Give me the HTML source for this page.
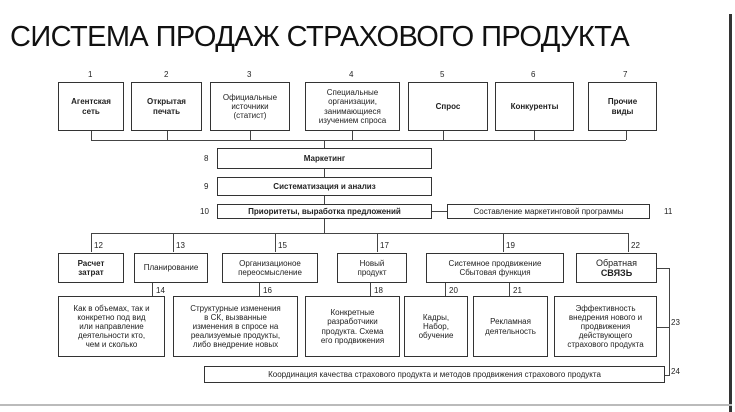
<!DOCTYPE html>
<html><head><meta charset="utf-8"><style>
body{margin:0;width:735px;height:412px;background:#fff;position:relative;overflow:hidden;font-family:"Liberation Sans",sans-serif;color:#222}
.b{position:absolute;border:1.3px solid #333;box-sizing:border-box;display:flex;align-items:center;justify-content:center;text-align:center;font-size:8px;line-height:1.15}
.bold{font-weight:bold}
.n{position:absolute;font-size:8px}
.h{position:absolute;height:0;border-top:1.3px solid #444}
.v{position:absolute;width:0;border-left:1.3px solid #444}
</style></head><body>
<div style="position:absolute;left:10px;top:21px;font-size:29px;letter-spacing:-0.6px;color:#111;white-space:nowrap">СИСТЕМА ПРОДАЖ СТРАХОВОГО ПРОДУКТА</div>
<div style="position:absolute;left:729px;top:14px;width:3px;height:398px;background:#333"></div>
<div style="position:absolute;left:0;top:404px;width:732px;height:2px;background:#bbb"></div>

<div class="n" style="left:88px;top:70px">1</div>
<div class="n" style="left:164px;top:70px">2</div>
<div class="n" style="left:247px;top:70px">3</div>
<div class="n" style="left:349px;top:70px">4</div>
<div class="n" style="left:440px;top:70px">5</div>
<div class="n" style="left:531px;top:70px">6</div>
<div class="n" style="left:623px;top:70px">7</div>
<div class="b bold" style="left:58px;top:82px;width:66px;height:49px"><div>Агентская<br>сеть</div></div>
<div class="b bold" style="left:131px;top:82px;width:71px;height:49px"><div>Открытая<br>печать</div></div>
<div class="b" style="left:210px;top:82px;width:80px;height:49px"><div>Официальные<br>источники<br>(статист)</div></div>
<div class="b" style="left:305px;top:82px;width:95px;height:49px"><div>Специальные<br>организации,<br>занимающиеся<br>изучением спроса</div></div>
<div class="b bold" style="left:408px;top:82px;width:80px;height:49px">Спрос</div>
<div class="b bold" style="left:495px;top:82px;width:79px;height:49px">Конкуренты</div>
<div class="b bold" style="left:588px;top:82px;width:69px;height:49px"><div>Прочие<br>виды</div></div>
<div class="h" style="left:91px;top:140px;width:535px"></div>
<div class="v" style="left:91px;top:131px;height:9px"></div>
<div class="v" style="left:167px;top:131px;height:9px"></div>
<div class="v" style="left:250px;top:131px;height:9px"></div>
<div class="v" style="left:352px;top:131px;height:9px"></div>
<div class="v" style="left:443px;top:131px;height:9px"></div>
<div class="v" style="left:534px;top:131px;height:9px"></div>
<div class="v" style="left:626px;top:131px;height:9px"></div>
<div class="v" style="left:324px;top:140px;height:8px"></div>
<div class="n" style="left:204px;top:154px">8</div>
<div class="n" style="left:204px;top:182px">9</div>
<div class="n" style="left:200px;top:207px">10</div>
<div class="b bold" style="left:217px;top:148px;width:215px;height:21px">Маркетинг</div>
<div class="v" style="left:324px;top:169px;height:8px"></div>
<div class="b bold" style="left:217px;top:177px;width:215px;height:19px">Систематизация и анализ</div>
<div class="v" style="left:324px;top:196px;height:8px"></div>
<div class="b bold" style="left:217px;top:204px;width:215px;height:15px;border-width:1.8px">Приоритеты, выработка предложений</div>
<div class="h" style="left:432px;top:211px;width:15px"></div>
<div class="b" style="left:447px;top:204px;width:203px;height:15px">Составление маркетинговой программы</div>
<div class="n" style="left:664px;top:207px">11</div>
<div class="v" style="left:324px;top:219px;height:14px"></div>
<div class="h" style="left:91px;top:233px;width:537px"></div>
<div class="v" style="left:91px;top:233px;height:19px"></div>
<div class="v" style="left:173px;top:233px;height:19px"></div>
<div class="v" style="left:275px;top:233px;height:19px"></div>
<div class="v" style="left:377px;top:233px;height:19px"></div>
<div class="v" style="left:503px;top:233px;height:19px"></div>
<div class="v" style="left:628px;top:233px;height:19px"></div>
<div class="n" style="left:94px;top:241px">12</div>
<div class="n" style="left:176px;top:241px">13</div>
<div class="n" style="left:278px;top:241px">15</div>
<div class="n" style="left:380px;top:241px">17</div>
<div class="n" style="left:506px;top:241px">19</div>
<div class="n" style="left:631px;top:241px">22</div>
<div class="b bold" style="left:58px;top:253px;width:66px;height:30px"><div>Расчет<br>затрат</div></div>
<div class="b" style="left:134px;top:253px;width:74px;height:30px">Планирование</div>
<div class="b" style="left:222px;top:253px;width:96px;height:30px"><div>Организационое<br>переосмысление</div></div>
<div class="b" style="left:337px;top:253px;width:70px;height:30px"><div>Новый<br>продукт</div></div>
<div class="b" style="left:426px;top:253px;width:138px;height:30px"><div>Системное продвижение<br>Сбытовая функция</div></div>
<div class="b" style="left:576px;top:253px;width:81px;height:30px;font-size:9px"><div>Обратная<br><b>СВЯЗЬ</b></div></div>
<div class="v" style="left:152px;top:283px;height:14px"></div>
<div class="v" style="left:259px;top:283px;height:14px"></div>
<div class="v" style="left:370px;top:283px;height:14px"></div>
<div class="v" style="left:445px;top:283px;height:14px"></div>
<div class="v" style="left:509px;top:283px;height:14px"></div>
<div class="n" style="left:156px;top:286px">14</div>
<div class="n" style="left:263px;top:286px">16</div>
<div class="n" style="left:374px;top:286px">18</div>
<div class="n" style="left:449px;top:286px">20</div>
<div class="n" style="left:513px;top:286px">21</div>
<div class="b" style="left:58px;top:296px;width:107px;height:61px"><div>Как в объемах, так и<br>конкретно под вид<br>или направление<br>деятельности кто,<br>чем и сколько</div></div>
<div class="b" style="left:173px;top:296px;width:125px;height:61px"><div>Структурные изменения<br>в СК, вызванные<br>изменения в спросе на<br>реализуемые продукты,<br>либо внедрение новых</div></div>
<div class="b" style="left:305px;top:296px;width:95px;height:61px"><div>Конкретные<br>разработчики<br>продукта. Схема<br>его продвижения</div></div>
<div class="b" style="left:404px;top:296px;width:64px;height:61px"><div>Кадры,<br>Набор,<br>обучение</div></div>
<div class="b" style="left:473px;top:296px;width:75px;height:61px"><div>Рекламная<br>деятельность</div></div>
<div class="b" style="left:554px;top:296px;width:103px;height:61px"><div>Эффективность<br>внедрения нового и<br>продвижения<br>действующего<br>страхового продукта</div></div>
<div class="h" style="left:657px;top:268px;width:12px"></div>
<div class="v" style="left:669px;top:268px;height:107px"></div>
<div class="h" style="left:657px;top:327px;width:12px"></div>
<div class="h" style="left:665px;top:375px;width:5px"></div>
<div class="n" style="left:671px;top:318px">23</div>
<div class="n" style="left:671px;top:367px">24</div>
<div class="b" style="left:204px;top:366px;width:461px;height:17px">Координация качества страхового продукта и методов продвижения страхового продукта</div>
</body></html>
